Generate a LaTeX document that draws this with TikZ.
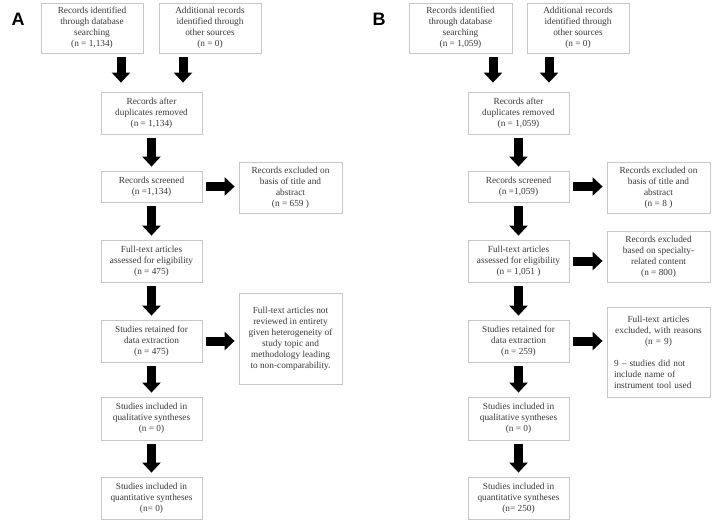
\documentclass[tikz,border=0pt]{standalone}
\usepackage{fontspec}
\setmainfont{Liberation Serif}
\newfontfamily\panelfont{Liberation Sans}
\usetikzlibrary{arrows.meta}

\tikzset{
	box/.style={draw=black!22, line width=0.8pt, text=black!78, align=center, inner sep=0pt,
		minimum width=101pt, font=\fontsize{9.3}{11}\selectfont},
	sidebox/.style={box, minimum width=103pt},
	fat/.style={line width=9pt, -{Triangle[length=10pt,width=18pt]}, shorten <=4pt, shorten >=4pt},
	panel/.style={font=\panelfont\bfseries\fontsize{18}{18}\selectfont},
}

\begin{document}
\begin{tikzpicture}[x=1pt, y=-1pt]
		%%%%% START %%%%%
		\useasboundingbox (0, 0) rectangle (712, 523);
		
		%%%%% panel A %%%%%
		\node[panel] (labA) at (18, 19) {A};
		
		\node[box, minimum width=102pt, minimum height=50pt] (idA) at (92, 28) {Records identified\\through database\\searching\\(n = 1,134)};
		\node[box, minimum width=102pt, minimum height=50pt] (addA) at (210, 28) {Additional records\\identified through\\other sources\\(n = 0)};
		\node[box, minimum height=42pt] (dupA) at (151.5, 113) {Records after\\duplicates removed\\(n = 1,134)};
		\node[box, minimum height=31pt] (scrA) at (151.5, 186.5) {Records screened\\(n =1,134)};
		\node[sidebox, minimum height=51pt] (exA) at (290.5, 187.5) {Records excluded on\\basis of title and\\abstract\\(n = 659 )};
		\node[box, minimum height=42pt] (ftA) at (151.5, 261) {Full-text articles\\assessed for eligibility\\(n = 475)};
		\node[box, minimum height=42pt] (retA) at (151.5, 341) {Studies retained for\\data extraction\\(n = 475)};
		\node[sidebox, minimum height=91pt] (nrA) at (290.5, 338.5) {Full-text articles not\\reviewed in entirety\\given heterogeneity of\\study topic and\\methodology leading\\to non-comparability.};
		\node[box, minimum height=43pt] (qlA) at (151.5, 418.5) {Studies included in\\qualitative syntheses\\(n = 0)};
		\node[box, minimum height=42pt] (qnA) at (151.5, 498) {Studies included in\\quantitative syntheses\\(n= 0)};
		
		\draw[fat, shorten >=9pt] ([xshift=-30.5pt]dupA.north |- idA.south) -- ([xshift=-30.5pt]dupA.north);
		\draw[fat, shorten >=9pt] ([xshift=31.5pt]dupA.north |- addA.south) -- ([xshift=31.5pt]dupA.north);
		\draw[fat] (dupA) -- (scrA);
		\draw[fat] (scrA) -- (ftA);
		\draw[fat] (ftA) -- (retA);
		\draw[fat] (retA) -- (qlA);
		\draw[fat] (qlA) -- (qnA);
		\draw[fat] (scrA.east) -- (scrA.east -| exA.west);
		\draw[fat] (retA.east) -- (retA.east -| nrA.west);
		
		%%%%% panel B %%%%%
		\node[panel] (labB) at (379, 19) {B};
		
		\node[box, minimum width=103pt, minimum height=50pt] (idB) at (460.5, 28) {Records identified\\through database\\searching\\(n = 1,059)};
		\node[box, minimum width=102pt, minimum height=50pt] (addB) at (578, 28) {Additional records\\identified through\\other sources\\(n = 0)};
		\node[box, minimum height=42pt] (dupB) at (518.5, 113) {Records after\\duplicates removed\\(n = 1,059)};
		\node[box, minimum height=31pt] (scrB) at (518.5, 186.5) {Records screened\\(n =1,059)};
		\node[sidebox, minimum height=51pt] (exB) at (658.5, 187.5) {Records excluded on\\basis of title and\\abstract\\(n = 8 )};
		\node[box, minimum height=42pt] (ftB) at (518.5, 261) {Full-text articles\\assessed for eligibility\\(n = 1,051 )};
		\node[sidebox, minimum height=51pt] (spB) at (658.5, 256.5) {Records excluded\\based on specialty-\\related content\\(n = 800)};
		\node[box, minimum height=42pt] (retB) at (518.5, 341) {Studies retained for\\data extraction\\(n = 259)};
		\node[sidebox, minimum height=90pt, text width=89pt, align=left] (rsB) at (658.5, 352) {{\centering Full-text articles\\excluded, with reasons\\(n = 9)\par}\vspace{11pt}9 -- studies did not\\include name of\\instrument tool used};
		\node[box, minimum height=43pt] (qlB) at (518.5, 418.5) {Studies included in\\qualitative syntheses\\(n = 0)};
		\node[box, minimum height=42pt] (qnB) at (518.5, 498) {Studies included in\\quantitative syntheses\\(n= 250)};
		
		\draw[fat, shorten >=9pt] ([xshift=-25.5pt]dupB.north |- idB.south) -- ([xshift=-25.5pt]dupB.north);
		\draw[fat, shorten >=9pt] ([xshift=30.5pt]dupB.north |- addB.south) -- ([xshift=30.5pt]dupB.north);
		\draw[fat] (dupB) -- (scrB);
		\draw[fat] (scrB) -- (ftB);
		\draw[fat] (ftB) -- (retB);
		\draw[fat] (retB) -- (qlB);
		\draw[fat] (qlB) -- (qnB);
		\draw[fat] (scrB.east) -- (scrB.east -| exB.west);
		\draw[fat] (ftB.east) -- (ftB.east -| spB.west);
		\draw[fat] (retB.east) -- (retB.east -| rsB.west);
		%%%%% END %%%%%
	\end{tikzpicture}
\end{document}
